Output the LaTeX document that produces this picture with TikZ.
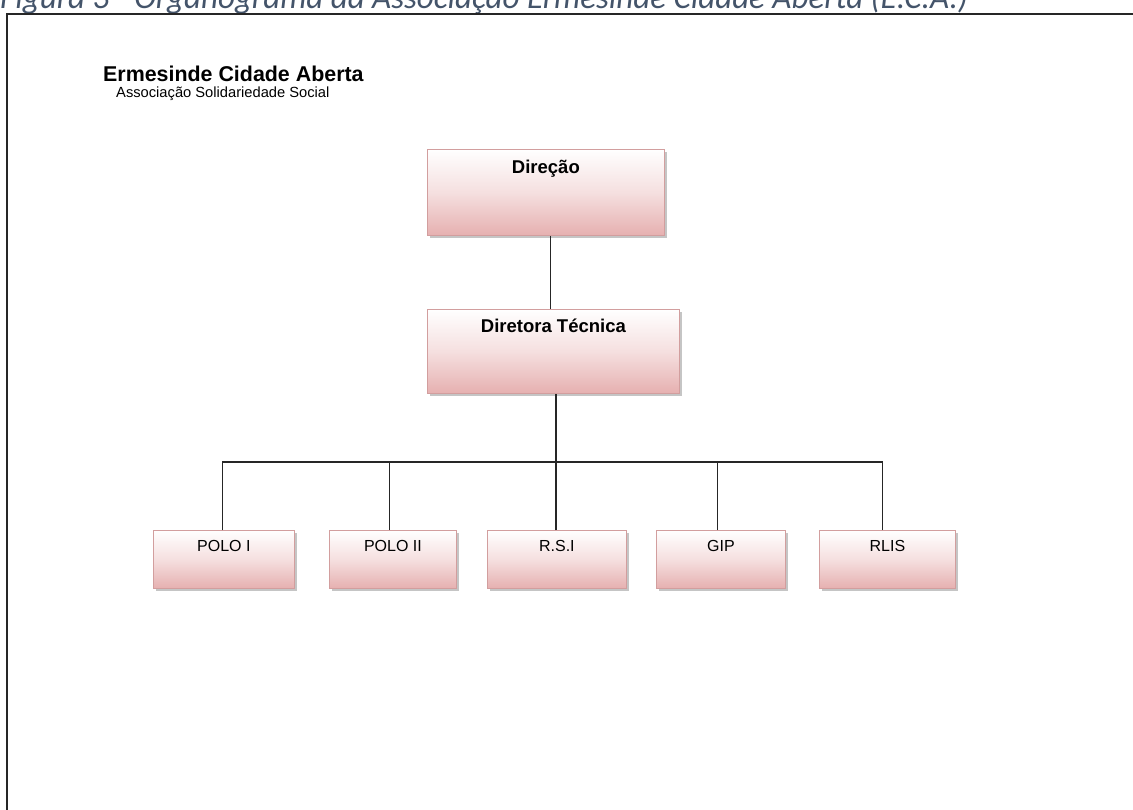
\documentclass[tikz,border=0pt]{standalone}
\usepackage{fontspec}
\setmainfont{Liberation Sans}
\newfontfamily\capfont{Carlito}
\usetikzlibrary{shadows}
\definecolor{boxpink}{RGB}{230,176,176}
\definecolor{boxedge}{RGB}{210,158,158}
\definecolor{captionblue}{RGB}{68,84,106}
\begin{document}
\begin{tikzpicture}[x=1pt,y=-1pt,
  orgbox/.style={draw=boxedge, line width=0.8pt,
    top color=white, bottom color=boxpink, middle color=boxpink!40,
    inner xsep=0pt, inner ysep=0pt, anchor=north west,
    drop shadow={shadow xshift=2.5pt, shadow yshift=-2.5pt, fill=black!45, opacity=0.5}},
  headbox/.style={orgbox, font=\bfseries\fontsize{18.5}{20}\selectfont},
  unitbox/.style={orgbox, font=\fontsize{16}{18}\selectfont,
    minimum height=58pt, text height=21pt, text depth=37pt},
  link/.style={draw=black!85, line width=1.1pt},
  frame/.style={draw=black!85, line width=2pt}
]
\useasboundingbox (0,0) rectangle (1133,810);
\clip (0,0) rectangle (1133,810);

% caption above the frame (partly cut by the page edge)
\node[anchor=base west, inner sep=0pt, text=captionblue,
      font=\capfont\itshape\fontsize{33}{36}\selectfont] (caption) at (0,9)
  {Figura 3 - Organograma da Associação Ermesinde Cidade Aberta (E.C.A.)};

% frame
\coordinate (fa) at (7,820);
\coordinate (fb) at (7,14);
\coordinate (fc) at (1140,14);
\draw[frame] (fa) -- (fb) -- (fc);

% heading
\node[anchor=base west, inner sep=0pt, font=\bfseries\fontsize{21.4}{24}\selectfont] (title) at (103,82)
  {Ermesinde Cidade Aberta};
\node[anchor=base west, inner sep=0pt, font=\fontsize{14.7}{17}\selectfont] (subtitle) at (116,98)
  {Associação Solidariedade Social};

% boxes
\node[headbox, minimum width=237pt, text height=24pt, text depth=62pt] (dir) at (427,149) {Direção};
\node[headbox, minimum width=252pt, text height=23pt, text depth=61pt] (tec) at (427,309) {Diretora Técnica};

\node[unitbox, minimum width=141pt] (polo1) at (153,530) {POLO I};
\node[unitbox, minimum width=127pt] (polo2) at (329,530) {POLO II};
\node[unitbox, minimum width=139pt] (rsi)   at (487,530) {R.S.I};
\node[unitbox, minimum width=129pt] (gip)   at (656,530) {GIP};
\node[unitbox, minimum width=136pt] (rlis)  at (819,530) {RLIS};

% connectors
\coordinate (bus) at (556,462);
\coordinate (d1) at ([xshift=4.5pt]dir.south);
\draw[link] (d1) -- (d1 |- tec.north);
\draw[link] (bus |- tec.south) -- (bus);
\draw[link] ([xshift=-1.5pt]polo1.north) -- ([xshift=-1.5pt]polo1.north |- bus)
  -- ([xshift=-5pt]rlis.north |- bus) -- ([xshift=-5pt]rlis.north);
\draw[link] ([xshift=-3.5pt]polo2.north) -- ([xshift=-3.5pt]polo2.north |- bus);
\draw[link] (bus |- rsi.north) -- (bus);
\draw[link] ([xshift=-3.5pt]gip.north) -- ([xshift=-3.5pt]gip.north |- bus);
\end{tikzpicture}
\end{document}
